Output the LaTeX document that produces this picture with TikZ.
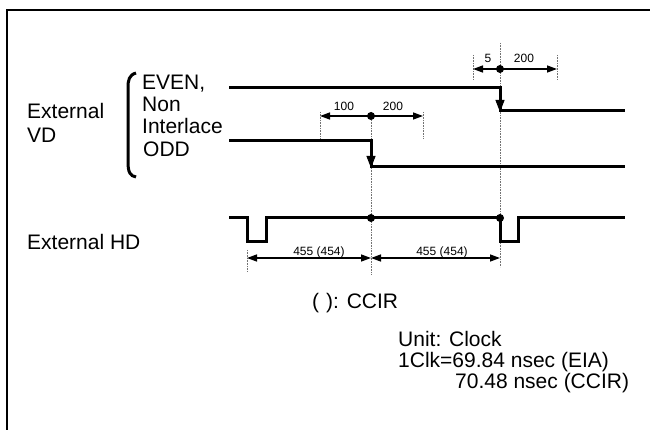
\documentclass[tikz,border=0pt]{standalone}
\usepackage{fontspec}
\setmainfont{Liberation Sans}
\usetikzlibrary{arrows.meta}

\begin{document}
\begin{tikzpicture}[x=1pt,y=-1pt,
    sig/.style={line width=3pt,line join=miter},
    edgetip/.style={line width=1pt,-{Triangle[length=12pt,width=9pt]}},
    dimline/.style={line width=1.4pt,{Triangle[length=10pt,width=7pt]}-{Triangle[length=10pt,width=7pt]}},
    guide/.style={densely dotted,black!55,line width=0.6pt},
    lbl/.style={font=\fontsize{21}{24}\selectfont,inner sep=0pt,anchor=base west},
    num/.style={font=\fontsize{12}{14}\selectfont,inner sep=0pt,anchor=base},
    dot/.style={circle,fill,inner sep=0pt,minimum size=8pt}]
    \useasboundingbox (0,0) rectangle (650,430);
    \draw[line width=2pt] (7,430) -- (7,10) -- (650,10);
    % signal names
    \node [lbl] (extvd) at (27,119) {External};
    \node [lbl] (vd) at (27,143) {VD};
    \node [lbl] (even) at (142,90) {EVEN,};
    \node [lbl] (non) at (142,112) {Non};
    \node [lbl] (ilace) at (142,134) {Interlace};
    \node [lbl] (odd) at (143,157) {ODD};
    \node [lbl] (exthd) at (27,250) {External HD};
    \draw [line width=3pt] (136,73) .. controls (129,75) and (128,80) .. (128,88) -- (128,162) .. controls (128,172) and (130,176) .. (136,177);
    % guide lines
    \draw [guide] (500,43) -- (500,267);
    \draw [guide] (371,112) -- (371,275);
    \draw [guide] (247,250) -- (247,272);
    \draw [guide] (473,55) -- (473,80);
    \draw [guide] (557,55) -- (557,80);
    \draw [guide] (320,112) -- (320,140);
    \draw [guide] (423,112) -- (423,138);
    % waveforms
    \draw [sig] (229,88) -- (500,88) -- (500,111) -- (625,111);
    \draw [edgetip] (500,92) -- (500,112);
    \draw [sig] (229,141) -- (371,141) -- (371,167) -- (625,167);
    \draw [edgetip] (371,145) -- (371,168);
    \draw [sig] (229,218) -- (247,218) -- (247,242) -- (266,242) -- (266,218) -- (500,218) -- (500,242) -- (518,242) -- (518,218) -- (625,218);
    % timing marks
    \node [dot] (evenmk) at (500,69) {};
    \node [dot] (oddmk) at (371,116) {};
    \node [dot] (hdmka) at (371,218) {};
    \node [dot] (hdmkb) at (500,218) {};
    \coordinate (evenl) at (473,69);
    \coordinate (evenr) at (557,69);
    \coordinate (oddl) at (320,116);
    \coordinate (oddr) at (423,116);
    \coordinate (hda) at (247,258);
    \coordinate (hdb) at (371,258);
    \coordinate (hdc) at (500,258);
    \draw [dimline] (evenl) -- (evenr);
    \draw [dimline] (oddl) -- (oddr);
    \draw [dimline] (hda) -- (hdb);
    \draw [dimline] (hdb) -- (hdc);
    \node [num] (fivelbl) at (488,63) {5};
    \node [num] (evenlbl) at (524,63) {200};
    \node [num] (hundlbl) at (344,111) {100};
    \node [num] (oddlbl) at (393,111) {200};
    \node [num] (hdalbl) at (319,255) {455 (454)};
    \node [num] (hdblbl) at (442,255) {455 (454)};
    % notes
    \node [lbl] (ccir) at (312,308) {(\hspace{7pt}): CCIR};
    \node [lbl] (unit) at (398,346) {Unit: Clock};
    \node [lbl] (eia) at (398,367) {1Clk=69.84 nsec (EIA)};
    \node [lbl] (ccirclk) at (455,388) {70.48 nsec (CCIR)};
\end{tikzpicture}
\end{document}
